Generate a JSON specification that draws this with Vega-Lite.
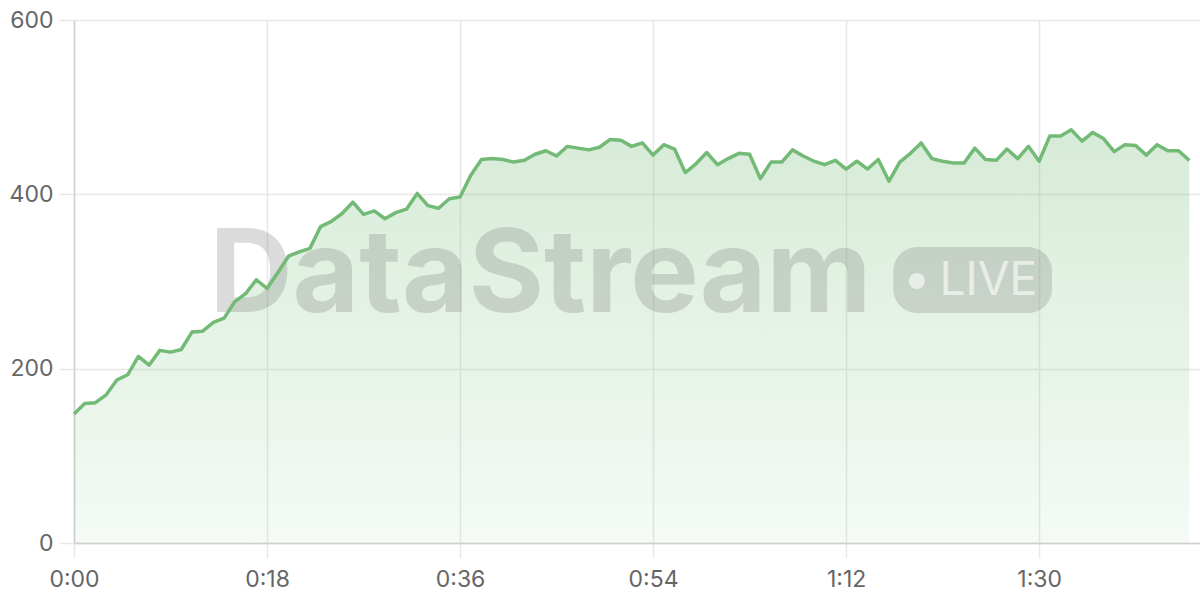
{
  "$schema": "https://vega.github.io/schema/vega-lite/v6.json",
  "width": 1126,
  "height": 523,
  "autosize": {"type": "none"},
  "padding": {"left": 74, "top": 20, "right": 0, "bottom": 57},
  "background": "#ffffff",
  "config": {
    "view": {"stroke": null},
    "axis": {
      "labelFont": "Inter",
      "labelFontSize": 23,
      "labelColor": "#666666",
      "labelFlush": false,
      "gridColor": "#e8e8e8",
      "gridWidth": 1.5,
      "tickColor": "#e8e8e8",
      "tickWidth": 1.5,
      "tickSize": 15,
      "domainColor": "#cfcfcf",
      "domainWidth": 1.5,
      "title": null
    }
  },
  "data": {
    "values": [
      {"t": 0, "v": 148}, {"t": 1, "v": 160}, {"t": 2, "v": 161}, {"t": 3, "v": 170}, {"t": 4, "v": 187},
      {"t": 5, "v": 193}, {"t": 6, "v": 214}, {"t": 7, "v": 204}, {"t": 8, "v": 221}, {"t": 9, "v": 219},
      {"t": 10, "v": 222}, {"t": 11, "v": 242}, {"t": 12, "v": 243}, {"t": 13, "v": 253}, {"t": 14, "v": 258},
      {"t": 15, "v": 277}, {"t": 16, "v": 286}, {"t": 17, "v": 302}, {"t": 18, "v": 292}, {"t": 19, "v": 310},
      {"t": 20, "v": 329}, {"t": 21, "v": 334}, {"t": 22, "v": 338}, {"t": 23, "v": 363}, {"t": 24, "v": 369},
      {"t": 25, "v": 378}, {"t": 26, "v": 391}, {"t": 27, "v": 377}, {"t": 28, "v": 381}, {"t": 29, "v": 372},
      {"t": 30, "v": 379}, {"t": 31, "v": 383}, {"t": 32, "v": 401}, {"t": 33, "v": 387}, {"t": 34, "v": 384},
      {"t": 35, "v": 395}, {"t": 36, "v": 397}, {"t": 37, "v": 422}, {"t": 38, "v": 440}, {"t": 39, "v": 441},
      {"t": 40, "v": 440}, {"t": 41, "v": 437}, {"t": 42, "v": 439}, {"t": 43, "v": 446}, {"t": 44, "v": 450},
      {"t": 45, "v": 444}, {"t": 46, "v": 455}, {"t": 47, "v": 453}, {"t": 48, "v": 451}, {"t": 49, "v": 454},
      {"t": 50, "v": 463}, {"t": 51, "v": 462}, {"t": 52, "v": 455}, {"t": 53, "v": 459}, {"t": 54, "v": 445},
      {"t": 55, "v": 457}, {"t": 56, "v": 452}, {"t": 57, "v": 425}, {"t": 58, "v": 435}, {"t": 59, "v": 448},
      {"t": 60, "v": 434}, {"t": 61, "v": 441}, {"t": 62, "v": 447}, {"t": 63, "v": 446}, {"t": 64, "v": 418},
      {"t": 65, "v": 437}, {"t": 66, "v": 437}, {"t": 67, "v": 451}, {"t": 68, "v": 444}, {"t": 69, "v": 438},
      {"t": 70, "v": 434}, {"t": 71, "v": 439}, {"t": 72, "v": 429}, {"t": 73, "v": 438}, {"t": 74, "v": 429},
      {"t": 75, "v": 440}, {"t": 76, "v": 415}, {"t": 77, "v": 437}, {"t": 78, "v": 447}, {"t": 79, "v": 459},
      {"t": 80, "v": 441}, {"t": 81, "v": 438}, {"t": 82, "v": 436}, {"t": 83, "v": 436}, {"t": 84, "v": 453},
      {"t": 85, "v": 440}, {"t": 86, "v": 439}, {"t": 87, "v": 452}, {"t": 88, "v": 441}, {"t": 89, "v": 455},
      {"t": 90, "v": 438}, {"t": 91, "v": 467}, {"t": 92, "v": 467}, {"t": 93, "v": 474}, {"t": 94, "v": 461},
      {"t": 95, "v": 471}, {"t": 96, "v": 464}, {"t": 97, "v": 449}, {"t": 98, "v": 457}, {"t": 99, "v": 456},
      {"t": 100, "v": 445}, {"t": 101, "v": 457}, {"t": 102, "v": 450}, {"t": 103, "v": 450}, {"t": 104, "v": 439}
    ]
  },
  "layer": [
    {
      "mark": {
        "type": "area",
        "interpolate": "linear",
        "color": {
          "gradient": "linear",
          "x1": 0, "y1": 0, "x2": 0, "y2": 1,
          "stops": [
            {"offset": 0, "color": "rgba(114,187,118,0.29)"},
            {"offset": 1, "color": "rgba(114,187,118,0.07)"}
          ]
        }
      },
      "encoding": {
        "x": {
          "field": "t", "type": "quantitative",
          "scale": {"domain": [0, 105], "nice": false, "zero": false},
          "axis": {
            "values": [0, 18, 36, 54, 72, 90],
            "labelExpr": "floor(datum.value / 60) + ':' + (datum.value % 60 < 10 ? '0' : '') + (datum.value % 60)",
            "labelPadding": 10,
            "grid": true
          }
        },
        "y": {
          "field": "v", "type": "quantitative",
          "scale": {"domain": [0, 600], "nice": false},
          "axis": {"values": [0, 200, 400, 600], "labelPadding": 6, "grid": true}
        }
      }
    },
    {
      "data": {"values": [{"label": "DataStream"}]},
      "mark": {"type": "text", "font": "Inter", "fontWeight": "bold", "fontSize": 115, "align": "center", "baseline": "middle", "color": "#808080", "opacity": 0.28},
      "encoding": {
        "x": {"datum": 43.5, "type": "quantitative"},
        "y": {"datum": 305, "type": "quantitative"},
        "text": {"field": "label"}
      }
    },
    {
      "data": {"values": [{"label": "LIVE"}]},
      "mark": {"type": "rect", "cornerRadius": 24, "color": "#808080", "opacity": 0.28},
      "encoding": {
        "x": {"datum": 76.4, "type": "quantitative"},
        "x2": {"datum": 91.2},
        "y": {"datum": 339.6, "type": "quantitative"},
        "y2": {"datum": 263.9}
      }
    },
    {
      "data": {"values": [{"label": "LIVE"}]},
      "mark": {"type": "point", "shape": "circle", "filled": true, "size": 256, "color": "#ffffff", "opacity": 0.6},
      "encoding": {
        "x": {"datum": 78.6, "type": "quantitative"},
        "y": {"datum": 300.6, "type": "quantitative"}
      }
    },
    {
      "data": {"values": [{"label": "LIVE"}]},
      "mark": {"type": "text", "font": "Inter", "fontSize": 46, "align": "left", "baseline": "middle", "color": "#ffffff", "opacity": 0.6},
      "encoding": {
        "x": {"datum": 80.7, "type": "quantitative"},
        "y": {"datum": 300.6, "type": "quantitative"},
        "text": {"field": "label"}
      }
    },
    {
      "mark": {"type": "line", "interpolate": "linear", "color": "#72ba75", "strokeWidth": 3.5, "strokeJoin": "round"},
      "encoding": {
        "x": {"field": "t", "type": "quantitative"},
        "y": {"field": "v", "type": "quantitative"}
      }
    }
  ]
}
